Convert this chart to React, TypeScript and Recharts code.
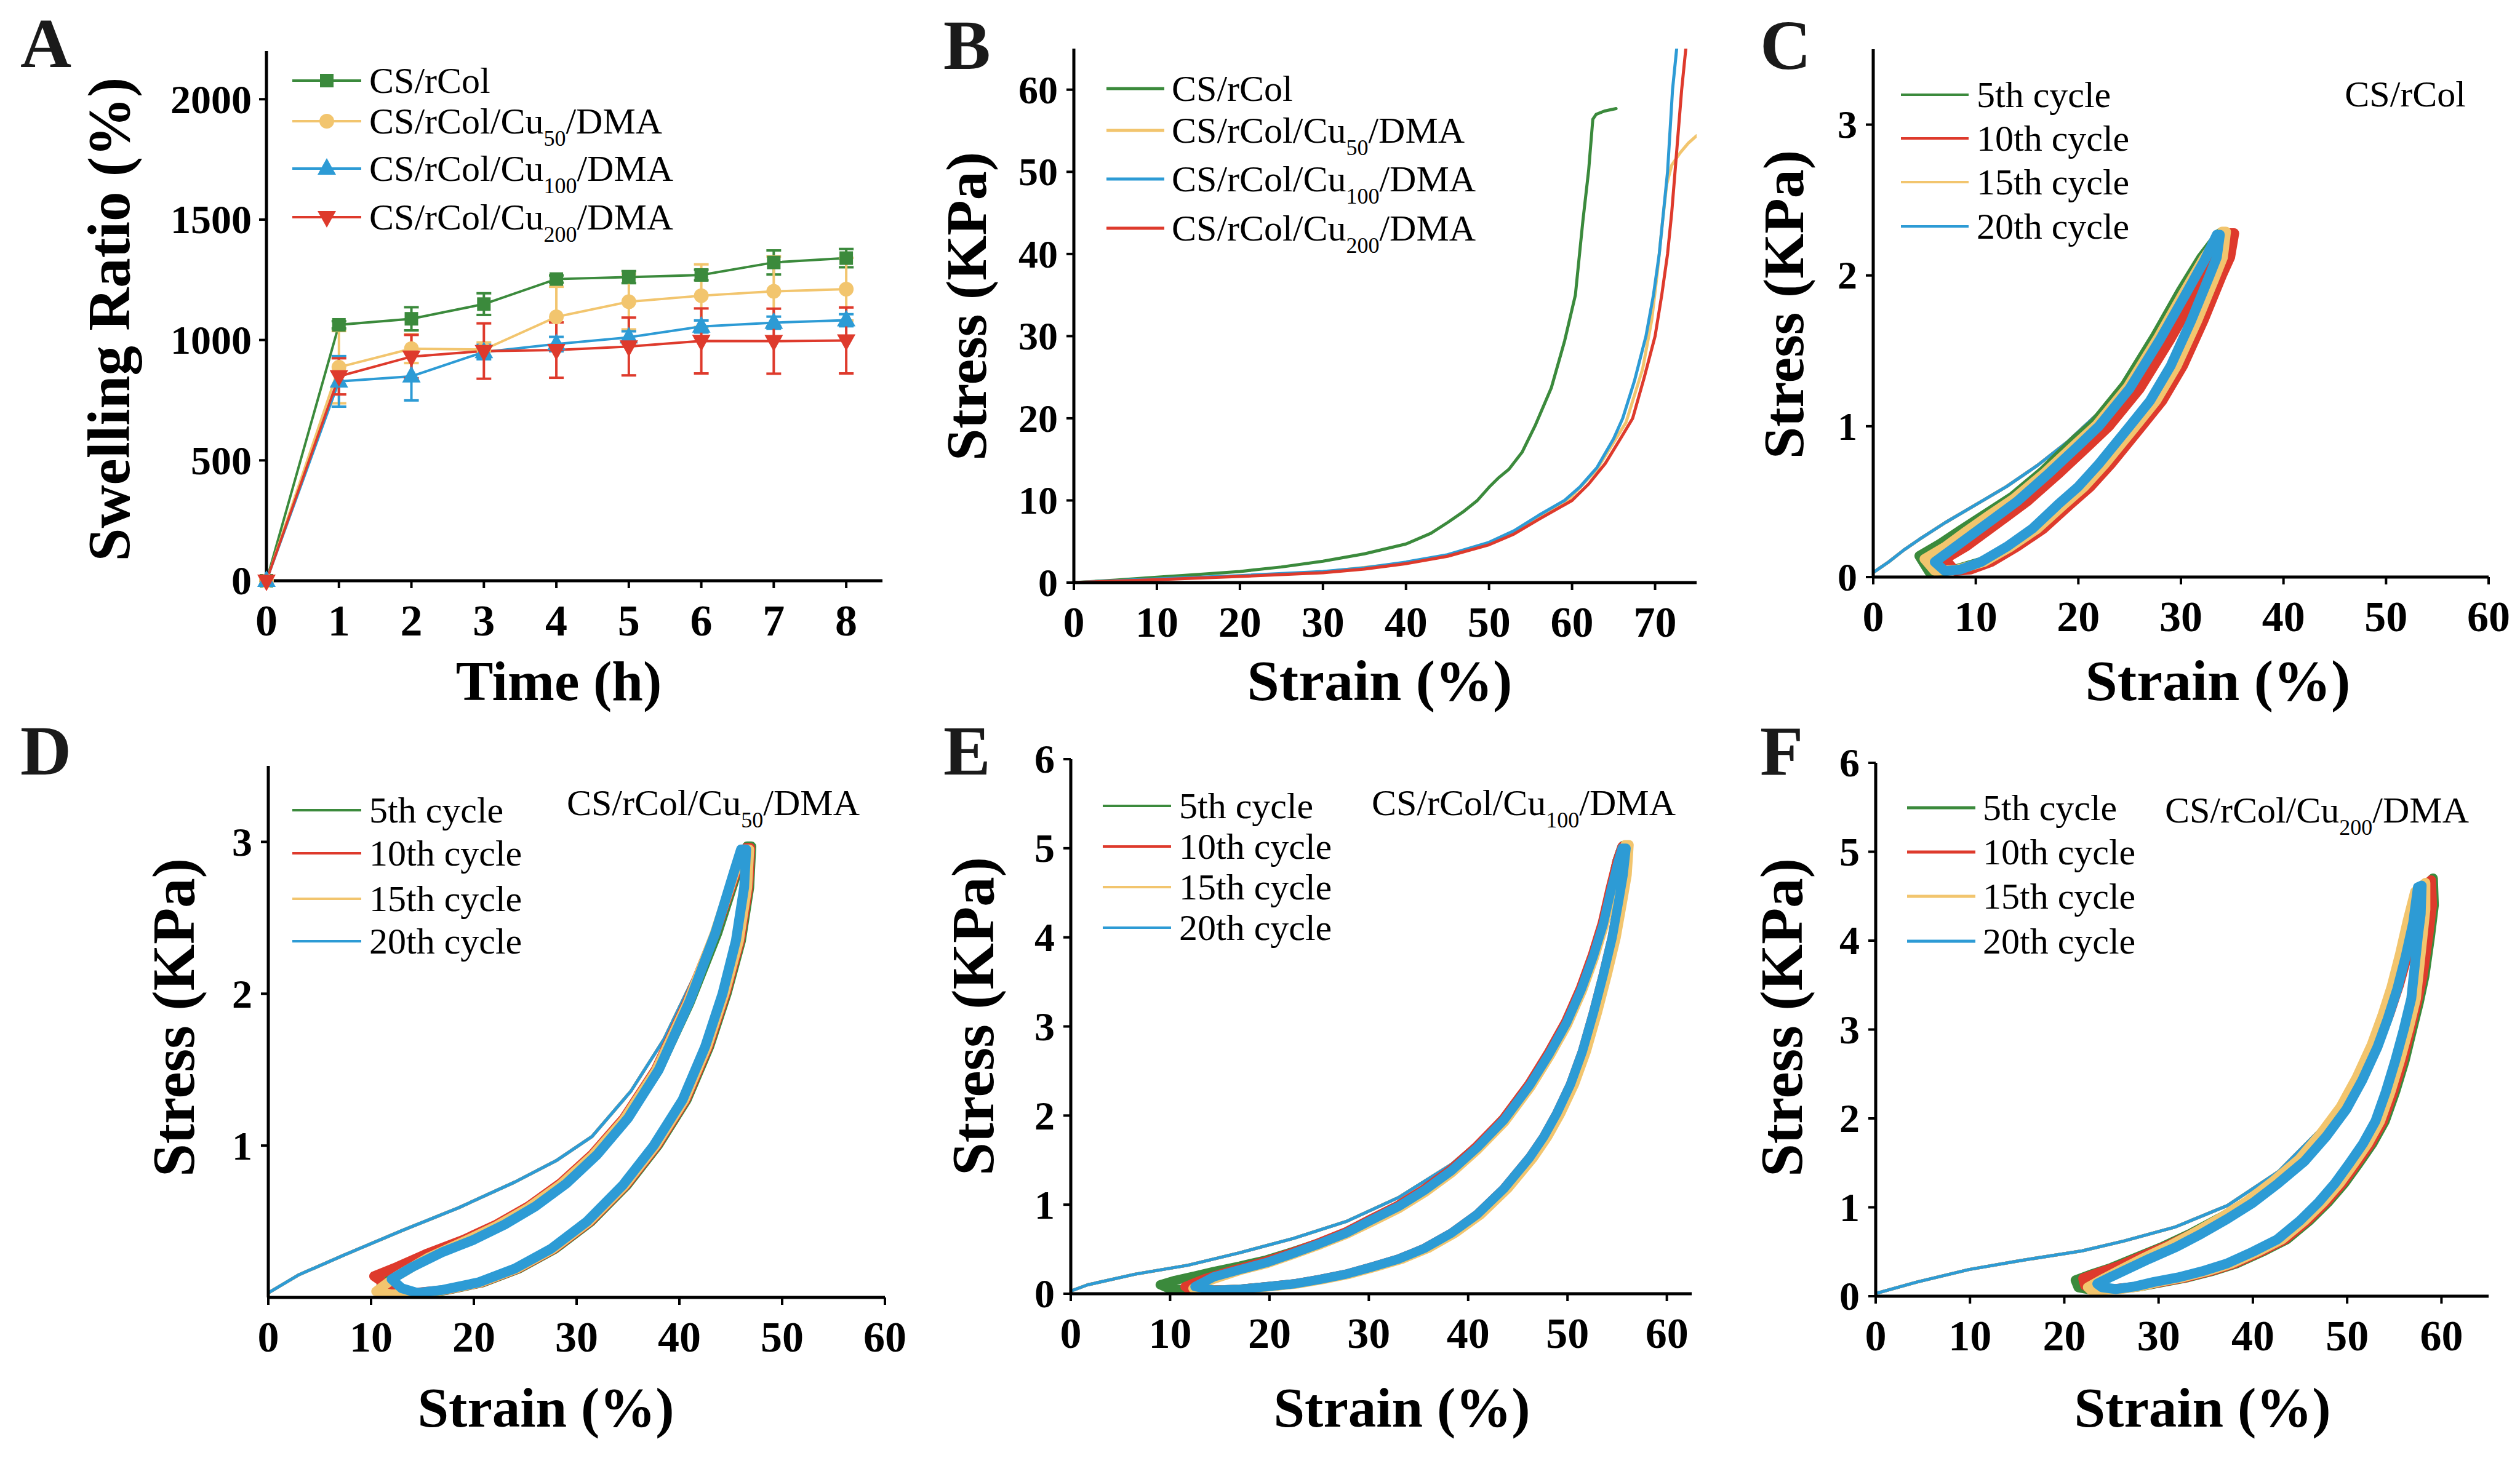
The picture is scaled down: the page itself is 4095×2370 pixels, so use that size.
import React from 'react';
import { LineChart, Line, XAxis, YAxis, ErrorBar, Legend } from 'recharts';

const FONT = '"Liberation Serif", "Times New Roman", Times, serif';
const GREEN = '#3b8a3c';
const YELLOW = '#f2c56e';
const BLUE = '#2d9bd5';
const RED = '#de3a2c';

type Pt = [number, number];
const toXY = (pts: Pt[]) => pts.map(([x, y]) => ({ x, y }));

// ---------------- Panel A: swelling ratio ----------------
const HOURS = [0, 1, 2, 3, 4, 5, 6, 7, 8];
const SR_CSRCOL = [0, 1063, 1088, 1149, 1253, 1261, 1270, 1322, 1340];
const SR_CSRCOL_ERR = [0, 15, 48, 45, 15, 25, 22, 50, 38];
const SR_CU50 = [0, 887, 964, 960, 1096, 1159, 1184, 1202, 1211];
const SR_CU50_ERR = [0, 150, 60, 30, 125, 115, 130, 145, 130];
const SR_CU100 = [0, 828, 849, 950, 983, 1011, 1056, 1072, 1082];
const SR_CU100_ERR = [0, 105, 100, 30, 30, 25, 25, 25, 25];
const SR_CU200 = [0, 849, 931, 954, 958, 973, 996, 995, 998];
const SR_CU200_ERR = [0, 75, 90, 115, 115, 120, 135, 135, 137];
const A_TICKS_Y = [0, 500, 1000, 1500, 2000];

// ---------------- Panel B: stress-strain ----------------
const B_CSRCOL: Pt[] = [[0, 0], [5, 0.3], [10, 0.65], [15, 1.0], [20, 1.35], [25, 1.9], [30, 2.6], [35, 3.5], [40, 4.7], [43, 6.0], [45, 7.3], [47, 8.7], [48.6, 10], [50, 11.6], [51.2, 12.8], [52.4, 13.8], [54, 15.9], [55.6, 19.2], [57.5, 23.7], [59.1, 29.4], [60.4, 35], [61.3, 44], [62, 50.2], [62.5, 56.4], [62.9, 57], [63.9, 57.4], [65.3, 57.7]];
const B_CU50: Pt[] = [[0, 0], [10, 0.4], [20, 0.8], [30, 1.3], [40, 2.4], [45, 3.3], [50, 4.7], [55, 7.2], [59.5, 10], [63, 13.8], [66.5, 19.5], [68.5, 26], [69.6, 32], [70.3, 38], [70.9, 44], [71.4, 48.5], [72, 50.8], [73, 52.3], [74, 53.5], [75, 54.4]];
const B_CU100: Pt[] = [[0, 0], [10, 0.45], [20, 0.85], [30, 1.35], [35, 1.8], [40, 2.5], [45, 3.4], [50, 4.9], [53, 6.3], [56, 8.2], [59.1, 10], [61, 11.7], [63, 14], [65, 17.5], [66.1, 20], [67.5, 24.5], [68.9, 30], [69.8, 35], [70.5, 40], [71, 45], [71.5, 50], [71.8, 55], [72.1, 60], [72.6, 65]];
const B_CU200: Pt[] = [[0, 0], [10, 0.35], [20, 0.75], [30, 1.2], [35, 1.65], [40, 2.3], [45, 3.2], [50, 4.6], [53, 5.9], [56, 7.7], [60, 10], [62, 12], [64, 14.5], [66, 17.8], [67.3, 20], [68.7, 25], [70, 30], [70.8, 35], [71.5, 40], [72, 45], [72.4, 50], [72.8, 55], [73.2, 60], [73.7, 65]];

// ---------------- Panel C: CS/rCol cycles ----------------
const C_FIRST: Pt[] = [[0, 0.03], [1.5, 0.1], [3, 0.18], [4.5, 0.25], [7, 0.36], [10, 0.48], [13, 0.6], [16, 0.74], [19, 0.9], [22, 1.09], [25, 1.32], [28, 1.6], [30.5, 1.9], [32.5, 2.15], [33.8, 2.3]];
const C_5: Pt[] = [[4.5, 0.14], [6.5, 0.22], [8.5, 0.31], [11, 0.42], [13.5, 0.53], [16.5, 0.7], [19.5, 0.9], [21.5, 1.02], [24.5, 1.27], [27.5, 1.6], [30, 1.9], [32, 2.12], [33.8, 2.28], [34.2, 2.28], [33.9, 2.12], [33.2, 2.0], [31.4, 1.7], [29.4, 1.4], [27.4, 1.17], [25.4, 1.0], [22.4, 0.75], [20.4, 0.6], [18.4, 0.48], [15.8, 0.32], [13.2, 0.2], [10.5, 0.1], [8, 0.05], [5.5, 0.03], [4.5, 0.14]];
const C_10: Pt[] = [[7, 0.12], [9, 0.2], [11, 0.3], [13, 0.4], [15, 0.5], [18, 0.68], [21, 0.87], [23, 1.0], [26, 1.25], [29, 1.58], [31.5, 1.88], [33.3, 2.1], [34.8, 2.28], [35.2, 2.28], [34.8, 2.12], [34, 2.0], [32.2, 1.7], [30.2, 1.4], [28.2, 1.17], [26.2, 1.0], [23.2, 0.75], [21.2, 0.6], [19.2, 0.48], [16.6, 0.32], [14, 0.2], [11.5, 0.1], [9.5, 0.05], [8, 0.04], [7, 0.12]];
const C_15: Pt[] = [[5, 0.12], [7, 0.2], [9, 0.3], [11.3, 0.41], [13.7, 0.52], [16.7, 0.69], [19.7, 0.88], [21.8, 1.01], [24.8, 1.26], [27.8, 1.59], [30.3, 1.89], [32.2, 2.11], [34, 2.29], [34.4, 2.29], [34.1, 2.12], [33.4, 2.0], [31.6, 1.7], [29.6, 1.4], [27.6, 1.17], [25.6, 1.0], [22.6, 0.75], [20.6, 0.6], [18.6, 0.48], [16, 0.32], [13.4, 0.2], [10.8, 0.1], [8.2, 0.05], [6, 0.04], [5, 0.12]];
const C_20: Pt[] = [[6, 0.1], [8, 0.2], [10, 0.3], [12, 0.4], [14, 0.5], [17, 0.68], [20, 0.87], [22, 1.0], [25, 1.25], [28, 1.58], [30.5, 1.88], [32.3, 2.1], [33.5, 2.27], [33.8, 2.27], [33.5, 2.12], [32.8, 2.0], [31, 1.7], [29, 1.4], [27, 1.17], [25, 1.0], [22, 0.75], [20, 0.6], [18, 0.48], [15.5, 0.32], [13, 0.2], [10.5, 0.1], [8.5, 0.05], [7, 0.04], [6, 0.1]];

// ---------------- Panel D: Cu50 cycles ----------------
const D_FIRST: Pt[] = [[0, 0.03], [3, 0.15], [7.4, 0.28], [13, 0.44], [18.5, 0.59], [24, 0.76], [28, 0.9], [31.5, 1.06], [35.3, 1.36], [38.5, 1.7], [41, 2.05], [43.7, 2.42], [45.9, 2.89], [46.4, 2.97]];
const D_5: Pt[] = [[11, 0.08], [13, 0.17], [16, 0.28], [19.3, 0.37], [22.4, 0.47], [25.5, 0.59], [28.6, 0.74], [31.7, 0.93], [34.8, 1.17], [37.9, 1.49], [41, 1.94], [43.7, 2.4], [45.7, 2.82], [46.6, 2.97], [47, 2.97], [46.8, 2.7], [46, 2.35], [44.6, 2.0], [42.9, 1.65], [40.7, 1.3], [37.9, 1.0], [34.9, 0.74], [31.4, 0.5], [27.9, 0.32], [24.4, 0.19], [20.9, 0.1], [17.4, 0.05], [14.5, 0.02], [12.5, 0.03], [11, 0.08]];
const D_10: Pt[] = [[10.3, 0.14], [12.5, 0.2], [15.5, 0.29], [19, 0.38], [22.2, 0.48], [25.3, 0.6], [28.4, 0.75], [31.5, 0.94], [34.6, 1.18], [37.7, 1.5], [40.8, 1.95], [43.5, 2.4], [45.5, 2.8], [46.5, 2.96], [46.9, 2.96], [46.7, 2.7], [45.9, 2.35], [44.5, 2.0], [42.8, 1.65], [40.6, 1.3], [37.8, 1.0], [34.8, 0.74], [31.3, 0.5], [27.8, 0.32], [24.3, 0.19], [20.8, 0.1], [17.3, 0.05], [14.2, 0.03], [12, 0.06], [10.3, 0.14]];
const D_15: Pt[] = [[10.5, 0.04], [12.5, 0.14], [15.5, 0.26], [19.1, 0.37], [22.2, 0.47], [25.3, 0.59], [28.4, 0.74], [31.5, 0.93], [34.6, 1.17], [37.7, 1.49], [40.8, 1.94], [43.4, 2.39], [45.4, 2.8], [46.3, 2.95], [46.8, 2.95], [46.6, 2.7], [45.8, 2.35], [44.4, 2.0], [42.7, 1.65], [40.5, 1.3], [37.7, 1.0], [34.7, 0.74], [31.2, 0.5], [27.7, 0.32], [24.2, 0.19], [20.7, 0.1], [17.2, 0.05], [14, 0.02], [12, 0.02], [10.5, 0.04]];
const D_20: Pt[] = [[12, 0.12], [14, 0.2], [17, 0.3], [20, 0.38], [23, 0.48], [26, 0.6], [29, 0.75], [32, 0.94], [35, 1.18], [38, 1.5], [41, 1.95], [43.5, 2.4], [45.3, 2.8], [46, 2.95], [46.5, 2.95], [46.3, 2.7], [45.5, 2.35], [44.2, 2.0], [42.5, 1.65], [40.3, 1.3], [37.5, 1.0], [34.5, 0.74], [31, 0.5], [27.5, 0.32], [24, 0.19], [20.5, 0.1], [17, 0.05], [14.5, 0.03], [13, 0.06], [12, 0.12]];

// ---------------- Panel E: Cu100 cycles ----------------
const E_FIRST: Pt[] = [[0, 0.03], [1.7, 0.1], [6.5, 0.22], [11.8, 0.32], [17, 0.46], [22.4, 0.62], [27.7, 0.81], [33, 1.08], [38.3, 1.45], [43.6, 1.96], [47.8, 2.6], [51, 3.36], [53.1, 4.06], [54.7, 4.87], [55.2, 5.03]];
const E_5: Pt[] = [[9, 0.1], [10.5, 0.15], [12.5, 0.2], [14.4, 0.25], [17, 0.31], [19.7, 0.38], [22.3, 0.47], [25, 0.57], [27.7, 0.69], [30.3, 0.84], [33, 0.99], [35.6, 1.17], [38.3, 1.39], [40.9, 1.65], [43.6, 1.97], [46.2, 2.36], [48.2, 2.72], [49.9, 3.06], [51.4, 3.44], [52.6, 3.81], [53.6, 4.17], [54.4, 4.55], [55.1, 4.87], [55.6, 5.03], [56, 5.03], [55.7, 4.7], [55.3, 4.44], [54.6, 4.0], [53.7, 3.58], [52.7, 3.15], [51.6, 2.72], [50.4, 2.35], [49, 2.02], [47.7, 1.76], [46.3, 1.53], [43.7, 1.18], [41, 0.89], [38.4, 0.68], [35.7, 0.51], [33.1, 0.39], [30.4, 0.3], [27.8, 0.22], [25.1, 0.16], [22.5, 0.11], [19.8, 0.08], [17, 0.05], [14, 0.04], [11.5, 0.05], [10, 0.05], [9, 0.1]];
const E_10: Pt[] = [[11.5, 0.08], [13.5, 0.17], [16.5, 0.27], [19.5, 0.36], [22.2, 0.46], [24.9, 0.57], [27.6, 0.69], [30.2, 0.84], [32.9, 0.99], [35.5, 1.17], [38.2, 1.39], [40.8, 1.65], [43.5, 1.96], [46.1, 2.35], [48.1, 2.71], [49.8, 3.05], [51.3, 3.43], [52.5, 3.8], [53.5, 4.16], [54.3, 4.55], [55, 4.86], [55.5, 5.02], [55.9, 5.02], [55.6, 4.7], [55.2, 4.44], [54.5, 4.0], [53.6, 3.58], [52.6, 3.15], [51.5, 2.72], [50.3, 2.35], [48.9, 2.02], [47.6, 1.76], [46.2, 1.53], [43.6, 1.18], [40.9, 0.89], [38.3, 0.68], [35.6, 0.51], [33, 0.39], [30.3, 0.3], [27.7, 0.22], [25, 0.16], [22.4, 0.11], [19.7, 0.08], [17, 0.05], [14, 0.04], [12, 0.04], [11.5, 0.08]];
const E_15: Pt[] = [[12.3, 0.06], [14.3, 0.16], [17, 0.26], [19.8, 0.34], [22.4, 0.44], [25.1, 0.55], [27.8, 0.67], [30.4, 0.81], [33.1, 0.96], [35.7, 1.14], [38.4, 1.36], [41, 1.62], [43.7, 1.93], [46.3, 2.32], [48.3, 2.68], [50, 3.02], [51.5, 3.4], [52.7, 3.77], [53.7, 4.13], [54.5, 4.52], [55.3, 4.85], [55.8, 5.04], [56.2, 5.04], [56, 4.7], [55.6, 4.44], [54.9, 4.0], [54, 3.58], [53, 3.15], [51.9, 2.72], [50.7, 2.35], [49.3, 2.02], [48, 1.76], [46.6, 1.53], [44, 1.18], [41.3, 0.89], [38.7, 0.68], [36, 0.51], [33.4, 0.39], [30.7, 0.3], [28.1, 0.22], [25.4, 0.16], [22.8, 0.11], [20.1, 0.08], [17.4, 0.05], [14.8, 0.04], [13, 0.03], [12.3, 0.06]];
const E_20: Pt[] = [[12.5, 0.08], [14.4, 0.19], [17, 0.27], [19.7, 0.35], [22.3, 0.45], [25, 0.56], [27.7, 0.68], [30.3, 0.83], [33, 0.98], [35.6, 1.16], [38.3, 1.38], [40.9, 1.64], [43.6, 1.95], [46.2, 2.34], [48.2, 2.7], [49.9, 3.04], [51.4, 3.42], [52.6, 3.79], [53.6, 4.15], [54.4, 4.54], [55.1, 4.85], [55.5, 5.0], [55.9, 5.0], [55.6, 4.7], [55.2, 4.44], [54.5, 4.0], [53.6, 3.58], [52.6, 3.15], [51.5, 2.72], [50.3, 2.35], [48.9, 2.02], [47.6, 1.76], [46.2, 1.53], [43.6, 1.18], [40.9, 0.89], [38.3, 0.68], [35.6, 0.51], [33, 0.39], [30.3, 0.3], [27.7, 0.22], [25, 0.16], [22.4, 0.11], [19.7, 0.08], [17, 0.05], [14.4, 0.04], [12.5, 0.08]];

// ---------------- Panel F: Cu200 cycles ----------------
const F_FIRST: Pt[] = [[0, 0.03], [4.4, 0.16], [9.9, 0.3], [15.3, 0.4], [21.9, 0.51], [26.3, 0.62], [31.8, 0.78], [37.3, 1.02], [42.7, 1.4], [48.2, 1.99], [51.5, 2.53], [54.2, 3.18], [56.2, 3.93], [57.5, 4.63]];
const F_5: Pt[] = [[21.2, 0.18], [23, 0.25], [25, 0.32], [27.5, 0.43], [30.5, 0.56], [33.5, 0.71], [36.5, 0.88], [39.5, 1.06], [42.3, 1.28], [45.2, 1.54], [47.6, 1.83], [49.7, 2.13], [51.5, 2.47], [53.1, 2.84], [54.3, 3.17], [55.3, 3.5], [56.3, 3.88], [57.2, 4.25], [58.2, 4.6], [59.1, 4.7], [59.2, 4.4], [58.8, 4.05], [58.2, 3.6], [57.6, 3.3], [56.9, 3.0], [56.1, 2.65], [55.1, 2.3], [54, 1.97], [52.7, 1.72], [51.2, 1.49], [49.7, 1.27], [48, 1.06], [46, 0.85], [43.6, 0.64], [41, 0.5], [38.3, 0.37], [35.6, 0.28], [33, 0.21], [30.5, 0.16], [28, 0.11], [25.5, 0.08], [23, 0.07], [21.5, 0.1], [21.2, 0.18]];
const F_10: Pt[] = [[22, 0.2], [23.8, 0.27], [25.8, 0.34], [28.2, 0.45], [31.2, 0.58], [34.1, 0.73], [37, 0.9], [39.9, 1.08], [42.6, 1.3], [45.4, 1.55], [47.8, 1.84], [49.9, 2.14], [51.7, 2.48], [53.3, 2.85], [54.5, 3.18], [55.5, 3.5], [56.5, 3.88], [57.4, 4.25], [58.3, 4.62], [58.9, 4.68], [59, 4.4], [58.6, 4.05], [58, 3.6], [57.4, 3.3], [56.7, 3.0], [55.9, 2.65], [54.9, 2.3], [53.8, 1.97], [52.5, 1.72], [51, 1.49], [49.5, 1.27], [47.8, 1.06], [45.8, 0.85], [43.4, 0.64], [40.8, 0.5], [38.1, 0.37], [35.4, 0.28], [32.8, 0.21], [30.3, 0.16], [27.8, 0.11], [25.3, 0.08], [23, 0.07], [22.2, 0.12], [22, 0.2]];
const F_15: Pt[] = [[22.5, 0.1], [24.2, 0.2], [26.2, 0.31], [28.4, 0.43], [31.2, 0.57], [33.9, 0.72], [36.7, 0.89], [39.4, 1.07], [42.1, 1.29], [44.9, 1.54], [47.2, 1.83], [49.3, 2.13], [51, 2.46], [52.6, 2.83], [53.7, 3.15], [54.7, 3.48], [55.6, 3.85], [56.4, 4.22], [57.2, 4.55], [58.3, 4.65], [58.3, 4.35], [58, 4.05], [57.3, 3.35], [56.5, 3.0], [55.6, 2.65], [54.6, 2.3], [53.5, 1.97], [52.2, 1.72], [50.7, 1.49], [49.2, 1.27], [47.5, 1.06], [45.5, 0.85], [43.1, 0.64], [40.5, 0.5], [37.8, 0.37], [35.1, 0.28], [32.5, 0.21], [30, 0.16], [28, 0.11], [26, 0.08], [24, 0.07], [22.8, 0.07], [22.5, 0.1]];
const F_20: Pt[] = [[23.5, 0.14], [25, 0.22], [27, 0.32], [29, 0.42], [31.8, 0.55], [34.5, 0.7], [37.3, 0.87], [40, 1.05], [42.7, 1.27], [45.5, 1.52], [47.8, 1.8], [49.9, 2.1], [51.6, 2.43], [53.2, 2.8], [54.3, 3.12], [55.3, 3.45], [56.2, 3.82], [57, 4.2], [57.5, 4.6], [57.9, 4.62], [57.8, 4.3], [57.5, 4.05], [56.8, 3.35], [56, 3.0], [55.1, 2.65], [54.1, 2.3], [53, 1.97], [51.7, 1.72], [50.2, 1.49], [48.7, 1.27], [47, 1.06], [45, 0.85], [42.6, 0.64], [40, 0.5], [37.3, 0.37], [34.6, 0.28], [32, 0.21], [29.5, 0.16], [27.5, 0.11], [25.5, 0.08], [24, 0.1], [23.5, 0.14]];

// ---------------- labels ----------------
type NameParts = { base: string; sub?: string; tail?: string };
const SAMPLE_NAMES: NameParts[] = [
  { base: 'CS/rCol' },
  { base: 'CS/rCol/Cu', sub: '50', tail: '/DMA' },
  { base: 'CS/rCol/Cu', sub: '100', tail: '/DMA' },
  { base: 'CS/rCol/Cu', sub: '200', tail: '/DMA' },
];
const CYCLE_NAMES = ['5th cycle', '10th cycle', '15th cycle', '20th cycle'];
const SERIES_COLORS = [GREEN, YELLOW, BLUE, RED];
const CYCLE_COLORS = [GREEN, RED, YELLOW, BLUE];

const plainName = (n: NameParts) => n.base + (n.sub || '') + (n.tail || '');

function RichText({ parts, x, y, fs, anchor }: { parts: NameParts; x: number; y: number; fs: number; anchor?: string }) {
  const subFs = fs * 0.6;
  const dy = fs * 0.34;
  return (
    <text x={x} y={y} fontFamily={FONT} fontSize={fs} fill="#000" textAnchor={anchor || 'start'}>
      {parts.base}
      {parts.sub ? <tspan fontSize={subFs} dy={dy}>{parts.sub}</tspan> : null}
      {parts.tail ? <tspan dy={parts.sub ? -dy : 0}>{parts.tail}</tspan> : null}
    </text>
  );
}

function Marker({ kind, cx, cy, color }: { kind: string; cx: number; cy: number; color: string }) {
  if (kind === 'square') return <rect x={cx - 11} y={cy - 11} width={22} height={22} fill={color} />;
  if (kind === 'circle') return <circle cx={cx} cy={cy} r={12} fill={color} />;
  if (kind === 'up') return <polygon points={`${cx},${cy - 17} ${cx - 15},${cy + 10} ${cx + 15},${cy + 10}`} fill={color} />;
  return <polygon points={`${cx},${cy + 17} ${cx - 15},${cy - 10} ${cx + 15},${cy - 10}`} fill={color} />;
}
const MARKERS = ['square', 'circle', 'up', 'down'];

interface OverlayProps {
  w: number; h: number; letter: string; letterX: number; letterY: number;
  rowsY: number[]; names: (NameParts | string)[]; colors: string[];
  x1: number; x2: number; textX: number; lineW: number; markers?: boolean;
  note?: NameParts; noteX?: number; noteY?: number;
}

function Overlay(p: OverlayProps) {
  return (
    <svg width={p.w} height={p.h} style={{ position: 'absolute', left: 0, top: 0, overflow: 'visible' }}>
      <text x={p.letterX} y={p.letterY} fontFamily={FONT} fontWeight={700} fontSize={115} fill="#1a1a1a">{p.letter}</text>
      {p.rowsY.map((y, i) => {
        const nm = p.names[i];
        const parts: NameParts = typeof nm === 'string' ? { base: nm } : nm;
        return (
          <g key={i}>
            <line x1={p.x1} x2={p.x2} y1={y} y2={y} stroke={p.colors[i]} strokeWidth={p.lineW} />
            {p.markers ? <Marker kind={MARKERS[i]} cx={(p.x1 + p.x2) / 2} cy={y} color={p.colors[i]} /> : null}
            <RichText parts={parts} x={p.textX} y={y + 20} fs={60} />
          </g>
        );
      })}
      {p.note ? <RichText parts={p.note} x={p.noteX || 0} y={p.noteY || 0} fs={60} anchor="end" /> : null}
    </svg>
  );
}

type Title = { text: string; x: number; y: number; fs: number };
const xTitle = (t: Title) => () => (
  <text x={t.x} y={t.y} textAnchor="middle" fontFamily={FONT} fontWeight={700} fontSize={t.fs} fill="#000">{t.text}</text>
);
const yTitle = (t: Title) => () => (
  <text x={t.x} y={t.y} transform={`rotate(-90 ${t.x} ${t.y})`} textAnchor="middle" fontFamily={FONT} fontWeight={700} fontSize={t.fs} fill="#000">{t.text}</text>
);

const xTick = (fs: number) => (props: any) => {
  const { x, y, payload } = props;
  return (
    <text x={x} y={y} dy={fs * 0.71} textAnchor="middle" fontFamily={FONT} fontWeight={700} fontSize={fs} fill="#000">
      {payload.value}
    </text>
  );
};
const yTick = (fs: number) => (props: any) => {
  const { x, y, payload } = props;
  return (
    <text x={x} y={y} dy={fs * 0.34} textAnchor="end" fontFamily={FONT} fontWeight={700} fontSize={fs} fill="#000">
      {payload.value}
    </text>
  );
};

const AXIS_LINE = { stroke: '#000', strokeWidth: 5 };
const TICK_LINE = { stroke: '#000', strokeWidth: 4 };

type Margin = { top: number; right: number; bottom: number; left: number };

// ---------------- Panel A component ----------------
const A_DATA = HOURS.map((t, i) => ({
  t,
  g: SR_CSRCOL[i], gE: SR_CSRCOL_ERR[i],
  yl: SR_CU50[i], ylE: SR_CU50_ERR[i],
  b: SR_CU100[i], bE: SR_CU100_ERR[i],
  r: SR_CU200[i], rE: SR_CU200_ERR[i],
}));

const dotFn = (kind: string, color: string) => (props: any) => {
  const { cx, cy, index } = props;
  if (cx == null || cy == null || isNaN(cx) || isNaN(cy)) return <g key={`e${index}`} />;
  return <g key={`${kind}${index}`}><Marker kind={kind} cx={cx} cy={cy} color={color} /></g>;
};

function PanelA() {
  const W = 1460, H = 1180;
  const keys = [['g', 'gE'], ['yl', 'ylE'], ['b', 'bE'], ['r', 'rE']];
  return (
    <LineChart width={W} height={H} data={A_DATA} margin={{ top: 83, right: 26, left: 183, bottom: 36 }}>
      <XAxis dataKey="t" type="number" domain={[0, 8.5]} ticks={HOURS} interval={0} height={200}
        tick={xTick(72)} tickSize={12} tickMargin={26} axisLine={AXIS_LINE} tickLine={TICK_LINE}
        label={xTitle({ text: 'Time (h)', x: 908, y: 1138, fs: 91 })} />
      <YAxis type="number" domain={[0, 2200]} ticks={A_TICKS_Y} interval={0} width={250}
        tick={yTick(66)} tickSize={12} tickMargin={12} axisLine={AXIS_LINE} tickLine={TICK_LINE}
        label={yTitle({ text: 'Swelling Ratio (%)', x: 210, y: 519, fs: 97 })} />
      <XAxis xAxisId="top" orientation="top" type="number" domain={[0, 1]} tick={false} tickLine={false} height={0} axisLine={AXIS_LINE} />
      <YAxis yAxisId="right" orientation="right" type="number" domain={[0, 1]} tick={false} tickLine={false} width={0} axisLine={AXIS_LINE} />
      {keys.map(([k, e], i) => (
        <Line key={k} dataKey={k} name={plainName(SAMPLE_NAMES[i])} stroke={SERIES_COLORS[i]} strokeWidth={4}
          dot={dotFn(MARKERS[i], SERIES_COLORS[i])} activeDot={false} isAnimationActive={false}>
          <ErrorBar dataKey={e} direction="y" width={12} strokeWidth={4} stroke={SERIES_COLORS[i]} />
        </Line>
      ))}
      <Legend layout="vertical" align="center" verticalAlign="middle"
        wrapperStyle={{ left: 0, top: 0, width: W, height: H, pointerEvents: 'none' }}
        content={() => (
          <Overlay w={W} h={H} letter="A" letterX={33} letterY={109} rowsY={[131, 197, 274, 353]}
            names={SAMPLE_NAMES} colors={SERIES_COLORS} x1={475} x2={587} textX={600} lineW={4} markers />
        )} />
    </LineChart>
  );
}

// ---------------- Generic curve panel ----------------
interface CurveLine { data: Pt[]; color: string; width: number; name: string; legend?: boolean }
interface CurveProps {
  W: number; H: number; margin: Margin; yw: number;
  xDomain: [number, number]; xTicks: number[]; yDomain: [number, number]; yTicks: number[];
  lines: CurveLine[]; xT: Title; yT: Title; overlay: OverlayProps; yTickFs?: number;
}

function CurvePanel(p: CurveProps) {
  return (
    <LineChart width={p.W} height={p.H} margin={p.margin}>
      <XAxis dataKey="x" type="number" domain={p.xDomain} ticks={p.xTicks} interval={0} height={200}
        allowDataOverflow tick={xTick(70)} tickSize={12} tickMargin={26} axisLine={AXIS_LINE} tickLine={TICK_LINE}
        label={xTitle(p.xT)} />
      <YAxis type="number" domain={p.yDomain} ticks={p.yTicks} interval={0} width={p.yw}
        allowDataOverflow tick={yTick(p.yTickFs || 64)} tickSize={12} tickMargin={14} axisLine={AXIS_LINE} tickLine={TICK_LINE}
        label={yTitle(p.yT)} />
      <XAxis xAxisId="top" orientation="top" type="number" domain={[0, 1]} tick={false} tickLine={false} height={0} axisLine={AXIS_LINE} />
      <YAxis yAxisId="right" orientation="right" type="number" domain={[0, 1]} tick={false} tickLine={false} width={0} axisLine={AXIS_LINE} />
      {p.lines.map((l, i) => (
        <Line key={i} data={toXY(l.data)} dataKey="y" name={l.name} stroke={l.color} strokeWidth={l.width}
          strokeLinejoin="round" strokeLinecap="round" dot={false} activeDot={false}
          legendType={l.legend === false ? 'none' : 'line'} isAnimationActive={false} />
      ))}
      <Legend layout="vertical" align="center" verticalAlign="middle"
        wrapperStyle={{ left: 0, top: 0, width: p.W, height: p.H, pointerEvents: 'none' }}
        content={() => <Overlay {...p.overlay} />} />
    </LineChart>
  );
}

const cycleLines = (first: Pt[], loops: Pt[][], loopW: number): CurveLine[] => {
  const out: CurveLine[] = [];
  loops.forEach((lp, i) => {
    out.push({ data: first, color: CYCLE_COLORS[i], width: 5, name: CYCLE_NAMES[i] + ' (first loading)', legend: false });
  });
  loops.forEach((lp, i) => {
    out.push({ data: lp, color: CYCLE_COLORS[i], width: loopW, name: CYCLE_NAMES[i] });
  });
  return out;
};

export default function App() {
  const bLines: CurveLine[] = [
    { data: B_CSRCOL, color: GREEN, width: 5, name: plainName(SAMPLE_NAMES[0]) },
    { data: B_CU50, color: YELLOW, width: 5, name: plainName(SAMPLE_NAMES[1]) },
    { data: B_CU100, color: BLUE, width: 5, name: plainName(SAMPLE_NAMES[2]) },
    { data: B_CU200, color: RED, width: 5, name: plainName(SAMPLE_NAMES[3]) },
  ];
  return (
    <div style={{ position: 'absolute', left: 0, top: 0, width: 4095, height: 2370, background: '#fff', overflow: 'hidden' }}>
      <div style={{ position: 'absolute', left: 0, top: 0 }}><PanelA /></div>
      <div style={{ position: 'absolute', left: 1460, top: 0 }}>
        <CurvePanel W={1340} H={1180} margin={{ top: 79, right: 43, left: 85, bottom: 33 }} yw={200}
          xDomain={[0, 75]} xTicks={[0, 10, 20, 30, 40, 50, 60, 70]} yDomain={[0, 65]} yTicks={[0, 10, 20, 30, 40, 50, 60]}
          lines={bLines}
          xT={{ text: 'Strain (%)', x: 782, y: 1138, fs: 94 }} yT={{ text: 'Stress (KPa)', x: 142, y: 498, fs: 94 }}
          overlay={{ w: 1340, h: 1180, letter: 'B', letterX: 73, letterY: 112, rowsY: [144, 212, 291, 371], names: SAMPLE_NAMES,
            colors: SERIES_COLORS, x1: 338, x2: 432, textX: 444, lineW: 5 }} />
      </div>
      <div style={{ position: 'absolute', left: 2780, top: 0 }}>
        <CurvePanel W={1315} H={1180} margin={{ top: 80, right: 51, left: 64, bottom: 42 }} yw={200}
          xDomain={[0, 60]} xTicks={[0, 10, 20, 30, 40, 50, 60]} yDomain={[0, 3.5]} yTicks={[0, 1, 2, 3]}
          lines={cycleLines(C_FIRST, [C_5, C_10, C_15, C_20], 16)}
          xT={{ text: 'Strain (%)', x: 824, y: 1138, fs: 94 }} yT={{ text: 'Stress (KPa)', x: 150, y: 495, fs: 94 }}
          overlay={{ w: 1315, h: 1180, letter: 'C', letterX: 80, letterY: 112, rowsY: [154, 225, 296, 368], names: CYCLE_NAMES,
            colors: CYCLE_COLORS, x1: 309, x2: 419, textX: 432, lineW: 4, note: { base: 'CS/rCol' }, noteX: 1227, noteY: 173 }} />
      </div>
      <div style={{ position: 'absolute', left: 0, top: 1150 }}>
        <CurvePanel W={1500} H={1220} margin={{ top: 95, right: 62, left: 186, bottom: 61 }} yw={250}
          xDomain={[0, 60]} xTicks={[0, 10, 20, 30, 40, 50, 60]} yDomain={[0, 3.5]} yTicks={[1, 2, 3]} yTickFs={66}
          lines={cycleLines(D_FIRST, [D_5, D_10, D_15, D_20], 16)}
          xT={{ text: 'Strain (%)', x: 887, y: 1169, fs: 91 }} yT={{ text: 'Stress (KPa)', x: 315, y: 504, fs: 97 }}
          overlay={{ w: 1500, h: 1220, letter: 'D', letterX: 33, letterY: 109, rowsY: [167, 237, 311, 380], names: CYCLE_NAMES,
            colors: CYCLE_COLORS, x1: 475, x2: 587, textX: 600, lineW: 4, note: SAMPLE_NAMES[1], noteX: 1397, noteY: 175 }} />
      </div>
      <div style={{ position: 'absolute', left: 1460, top: 1150 }}>
        <CurvePanel W={1340} H={1220} margin={{ top: 84, right: 51, left: 80, bottom: 67 }} yw={200}
          xDomain={[0, 62.5]} xTicks={[0, 10, 20, 30, 40, 50, 60]} yDomain={[0, 6]} yTicks={[0, 1, 2, 3, 4, 5, 6]} yTickFs={66}
          lines={cycleLines(E_FIRST, [E_5, E_10, E_15, E_20], 15)}
          xT={{ text: 'Strain (%)', x: 818, y: 1169, fs: 91 }} yT={{ text: 'Stress (KPa)', x: 154, y: 502, fs: 97 }}
          overlay={{ w: 1340, h: 1220, letter: 'E', letterX: 73, letterY: 109, rowsY: [160, 226, 292, 358], names: CYCLE_NAMES,
            colors: CYCLE_COLORS, x1: 332, x2: 443, textX: 456, lineW: 4, note: SAMPLE_NAMES[2], noteX: 1263, noteY: 175 }} />
      </div>
      <div style={{ position: 'absolute', left: 2780, top: 1150 }}>
        <CurvePanel W={1315} H={1220} margin={{ top: 90, right: 51, left: 68, bottom: 63 }} yw={200}
          xDomain={[0, 65]} xTicks={[0, 10, 20, 30, 40, 50, 60]} yDomain={[0, 6]} yTicks={[0, 1, 2, 3, 4, 5, 6]} yTickFs={66}
          lines={cycleLines(F_FIRST, [F_5, F_10, F_15, F_20], 16)}
          xT={{ text: 'Strain (%)', x: 799, y: 1169, fs: 91 }} yT={{ text: 'Stress (KPa)', x: 148, y: 504, fs: 97 }}
          overlay={{ w: 1315, h: 1220, letter: 'F', letterX: 80, letterY: 109, rowsY: [163, 235, 307, 380], names: CYCLE_NAMES,
            colors: CYCLE_COLORS, x1: 319, x2: 430, textX: 442, lineW: 5, note: SAMPLE_NAMES[3], noteX: 1232, noteY: 187 }} />
      </div>
    </div>
  );
}
